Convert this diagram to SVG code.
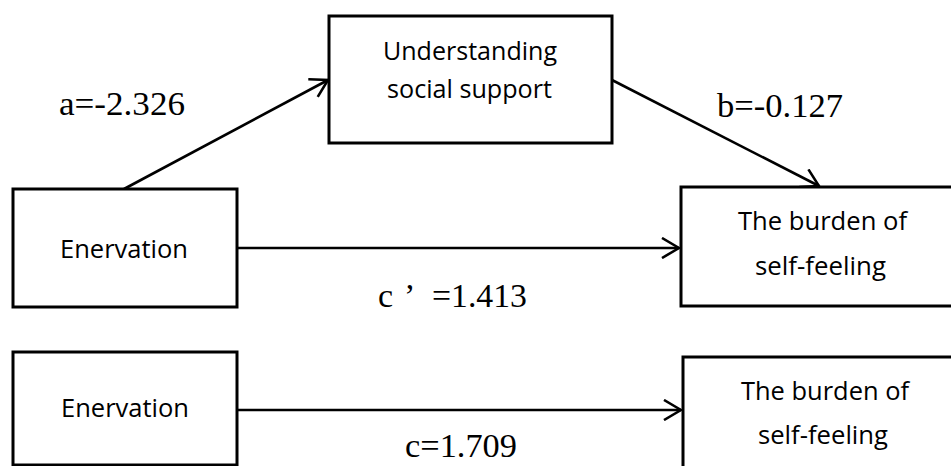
<svg xmlns="http://www.w3.org/2000/svg" width="951" height="466" viewBox="0 0 951 466">
  <style>
    .box { fill: #ffffff; stroke: #000000; stroke-width: 3; }
    .lbl { font-family: "Open Sans", "Liberation Sans", sans-serif; font-size: 25px; fill: #000000; }
    .coef { font-family: "Liberation Serif", "Times New Roman", serif; font-size: 34px; fill: #000000; }
    .edge { stroke: #000000; stroke-width: 2.6; fill: none; marker-end: url(#arr); }
  </style>
  <defs>
    <marker id="arr" viewBox="0 0 20 22" refX="18" refY="11" markerWidth="20" markerHeight="22" markerUnits="userSpaceOnUse" orient="auto">
      <path d="M1,1 L18,11 L1,21" fill="none" stroke="#000000" stroke-width="2.6" stroke-linejoin="miter"/>
    </marker>
  </defs>
  <rect x="0" y="0" width="951" height="466" fill="#ffffff"/>

  <g id="connectors">
    <line class="edge" x1="124" y1="189" x2="328" y2="80"/>
    <line class="edge" x1="612" y1="80" x2="819" y2="186"/>
    <line class="edge" x1="238" y1="248" x2="679" y2="248"/>
    <line class="edge" x1="238" y1="410" x2="681" y2="410"/>
  </g>

  <g id="node-support">
    <rect class="box" x="329" y="16" width="283" height="127"/>
    <text class="lbl" x="383" y="60" textLength="174" lengthAdjust="spacingAndGlyphs">Understanding</text>
    <text class="lbl" x="387" y="98" textLength="165" lengthAdjust="spacingAndGlyphs">social support</text>
  </g>

  <g id="node-enervation1">
    <rect class="box" x="13" y="189" width="224" height="118"/>
    <text class="lbl" x="60" y="258" textLength="128" lengthAdjust="spacingAndGlyphs">Enervation</text>
  </g>

  <g id="node-burden1">
    <rect class="box" x="681" y="187" width="300" height="119"/>
    <text class="lbl" x="738" y="230" textLength="169" lengthAdjust="spacingAndGlyphs">The burden of</text>
    <text class="lbl" x="755" y="275" textLength="131" lengthAdjust="spacingAndGlyphs">self-feeling</text>
  </g>

  <g id="node-enervation2">
    <rect class="box" x="13" y="352" width="224" height="113"/>
    <text class="lbl" x="61" y="417" textLength="128" lengthAdjust="spacingAndGlyphs">Enervation</text>
  </g>

  <g id="node-burden2">
    <rect class="box" x="683" y="357" width="300" height="130"/>
    <text class="lbl" x="741" y="400" textLength="168" lengthAdjust="spacingAndGlyphs">The burden of</text>
    <text class="lbl" x="758" y="444" textLength="130" lengthAdjust="spacingAndGlyphs">self-feeling</text>
  </g>

  <g id="labels">
    <text class="coef" x="59" y="115" textLength="126" lengthAdjust="spacingAndGlyphs">a=-2.326</text>
    <text class="coef" x="717" y="117" textLength="126" lengthAdjust="spacingAndGlyphs">b=-0.127</text>
    <text class="coef" y="307"><tspan x="378">c</tspan><tspan x="404">’</tspan><tspan x="432" textLength="95" lengthAdjust="spacingAndGlyphs">=1.413</tspan></text>
    <text class="coef" x="405" y="457" textLength="112" lengthAdjust="spacingAndGlyphs">c=1.709</text>
  </g>
</svg>
